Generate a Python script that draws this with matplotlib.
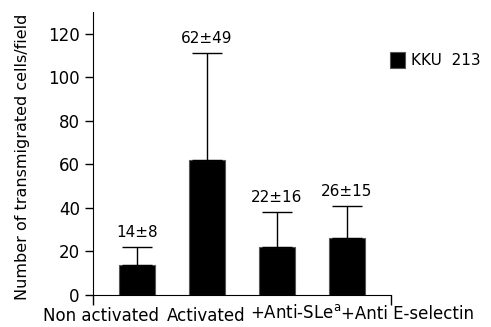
import numpy as np
import matplotlib
matplotlib.use('Agg')
import matplotlib.pyplot as plt

categories = ['Non activated', 'Activated', '+Anti-SLe$^\\mathregular{a}$', '+Anti E-selectin']
means = [14, 62, 22, 26]
errors = [8, 49, 16, 15]
series_name = 'KKU  213'

def main():
    plt.rcParams['font.family'] = 'DejaVu Sans'
    fig = plt.figure(figsize=(4.91, 3.27), dpi=100)
    ax = fig.add_axes([0.1894, 0.0979, 0.6069, 0.8654])

    x = np.arange(len(means))
    ax.bar(x, means, width=0.514, color='black', edgecolor='#555555',
           linewidth=0.8, label=series_name, zorder=2)
    ax.errorbar(x, means, yerr=[np.zeros(len(errors)), errors], fmt='none',
                ecolor='black', elinewidth=1, capsize=10.5, capthick=1, zorder=3)

    for xi, m, e in zip(x, means, errors):
        ax.annotate('{}\u00b1{}'.format(m, e), (xi, m + e), xytext=(0, 5),
                    textcoords='offset points', ha='center', va='bottom',
                    fontsize=11)

    ax.set_xlim(-0.629, 3.629)
    ax.set_ylim(0, 130)
    ax.set_yticks(np.arange(0, 121, 20))
    ax.tick_params(axis='y', labelsize=12, length=6, width=1)

    # only end ticks on the x axis, category names placed by hand
    ax.set_xticks([-0.629, 3.629])
    ax.set_xticklabels([])
    ax.tick_params(axis='x', length=7, width=1)
    label_x = [-0.51, 0.99, 2.26, 3.87]
    label_y = [-0.091, -0.091, -0.082, -0.085]
    for lx, ly, name in zip(label_x, label_y, categories):
        ax.text(lx, ly, name, transform=ax.get_xaxis_transform(),
                ha='center', va='baseline', fontsize=12)

    ax.spines['top'].set_visible(False)
    ax.spines['right'].set_visible(False)
    ax.set_ylabel('Number of transmigrated cells/field', fontsize=11.5)
    ax.yaxis.set_label_coords(-0.21, 0.49)

    ax.legend(loc='center left', bbox_to_anchor=(0.997, 0.83), frameon=False,
              borderaxespad=0, borderpad=0,
              handlelength=1.0, handleheight=1.2, handletextpad=0.35,
              fontsize=11)

    fig.savefig('out.png', dpi=100)

if __name__ == '__main__':
    main()
